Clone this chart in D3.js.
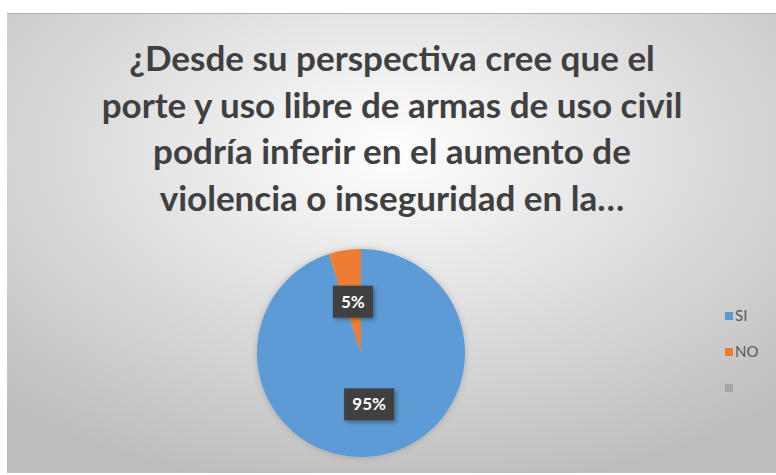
<!DOCTYPE html>
<html>
<head>
<meta charset="utf-8">
<script src="https://cdn.jsdelivr.net/npm/d3@7"></script>
<style>
  body { margin: 0; background: #fff; }
  svg { display: block; }
</style>
</head>
<body>
<div id="chart"></div>
<script>
// data
const categories = ['SI', 'NO', ''];
const values = [95, 5, 0];
const colors = ['#5B9BD5', '#ED7D31', '#A5A5A5'];
const titleLines = [
  '¿Desde su perspectiva cree que el',
  'porte y uso libre de armas de uso civil',
  'podría inferir en el aumento de',
  'violencia o inseguridad en la…'
];

const width = 776, height = 475;
const svg = d3.select('#chart').append('svg')
  .attr('width', width).attr('height', height);

const defs = svg.append('defs');
const grad = defs.append('radialGradient').attr('id', 'bg')
  .attr('cx', '50%').attr('cy', '30%').attr('r', '75%');
grad.append('stop').attr('offset', '0%').attr('stop-color', '#ffffff');
grad.append('stop').attr('offset', '100%').attr('stop-color', '#bdbdbd');

const shadow = defs.append('filter').attr('id', 'shadow')
  .attr('x', '-20%').attr('y', '-20%').attr('width', '140%').attr('height', '140%');
shadow.append('feDropShadow').attr('dx', 2).attr('dy', 2)
  .attr('stdDeviation', 2).attr('flood-color', '#000').attr('flood-opacity', 0.35);

const glow = defs.append('filter').attr('id', 'glow')
  .attr('x', '-20%').attr('y', '-20%').attr('width', '140%').attr('height', '140%');
glow.append('feDropShadow').attr('dx', 0).attr('dy', 0)
  .attr('stdDeviation', 3).attr('flood-color', '#000').attr('flood-opacity', 0.2);

// chart area
svg.append('rect').attr('x', 7).attr('y', 13)
  .attr('width', width - 7).attr('height', 460)
  .attr('fill', 'url(#bg)');
svg.append('line').attr('x1', 7).attr('x2', width).attr('y1', 13.5).attr('y2', 13.5)
  .attr('stroke', '#b0b0b0').attr('stroke-width', 1);

// title
svg.append('g').selectAll('text').data(titleLines).join('text')
  .attr('x', 392)
  .attr('y', (d, i) => 71 + i * 46.5)
  .attr('text-anchor', 'middle')
  .style('font-family', 'Lato, "Open Sans", sans-serif')
  .style('font-weight', 'bold')
  .style('font-size', '35px')
  .attr('fill', '#404040')
  .text(d => d);

// pie
const cx = 361, cy = 353, radius = 104;
const pie = d3.pie().sort(null).value(d => d.value);
const arcs = pie(categories.map((c, i) => ({ cat: c, value: values[i], color: colors[i] })));
const arc = d3.arc().innerRadius(0).outerRadius(radius);

const g = svg.append('g').attr('transform', `translate(${cx},${cy})`);
g.append('g').attr('filter', 'url(#glow)')
  .selectAll('path').data(arcs.filter(d => d.data.value > 0)).join('path')
  .attr('d', arc)
  .attr('fill', d => d.data.color);

// data labels
const labels = g.selectAll('g.lbl').data(arcs.filter(d => d.data.value > 0)).join('g')
  .attr('class', 'lbl')
  .attr('transform', d => `translate(${arc.centroid(d)})`);
labels.append('rect')
  .attr('x', d => d.data.value >= 10 ? -25 : -20)
  .attr('y', -16)
  .attr('width', d => d.data.value >= 10 ? 50 : 40)
  .attr('height', 32)
  .attr('fill', '#404040')
  .attr('filter', 'url(#shadow)');
labels.append('text')
  .attr('text-anchor', 'middle')
  .attr('dy', '0.36em')
  .style('font-family', 'Lato, "Open Sans", sans-serif')
  .style('font-weight', 'bold')
  .style('font-size', '17px')
  .attr('fill', '#ffffff')
  .text(d => d.data.value + '%');

// legend
const legend = svg.append('g').selectAll('g').data(categories).join('g')
  .attr('transform', (d, i) => `translate(725,${316 + i * 36})`);
legend.append('rect').attr('x', 0).attr('y', -4).attr('width', 8).attr('height', 8)
  .attr('fill', (d, i) => colors[i]);
legend.append('text').attr('x', 10).attr('dy', '0.36em')
  .style('font-family', 'Lato, "Open Sans", sans-serif')
  .style('font-size', '15px')
  .attr('fill', '#595959')
  .text(d => d);
</script>
</body>
</html>
